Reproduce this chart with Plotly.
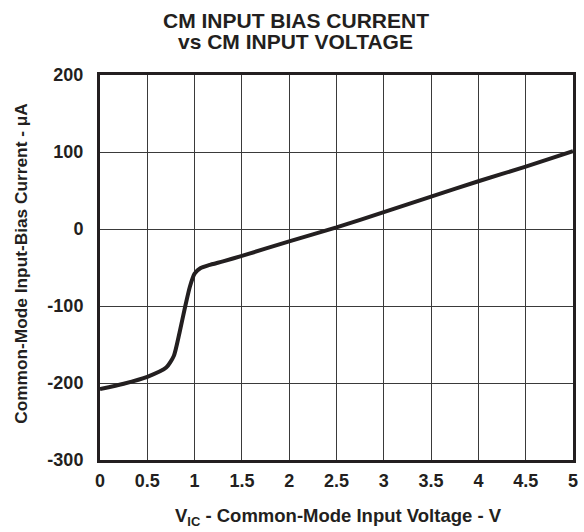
import plotly.graph_objects as go

# Common-mode input voltage (V) and input bias current (uA)
vic = [0, 0.25, 0.5, 0.7, 0.78, 0.84, 0.9, 0.95, 1.0, 1.06, 1.15, 1.3, 1.5,
       2.0, 2.5, 3.0, 3.5, 4.0, 4.5, 5.0]
ib = [-208, -201, -192, -180, -165, -135, -101, -75, -58, -51, -47, -42, -35,
      -16, 2, 22, 42, 62, 81, 101]

x_ticks = [0, 0.5, 1, 1.5, 2, 2.5, 3, 3.5, 4, 4.5, 5]
x_labels = ["0", "0.5", "1", "1.5", "2", "2.5", "3", "3.5", "4", "4.5", "5"]
y_ticks = [-300, -200, -100, 0, 100, 200]
y_labels = ["-300", "-200", "-100", "0", "100", "200"]

title_lines = ["CM INPUT BIAS CURRENT", "vs CM INPUT VOLTAGE"]
x_title = "V<sub>IC</sub> - Common-Mode Input Voltage - V"
y_title = "Common-Mode Input-Bias Current - \u03bcA"

FONT = "Liberation Sans, Arial, sans-serif"
INK = "#231f20"

W, H = 584, 532
L, R, T, B = 100, 6, 75, 72
PW, PH = W - L - R, H - T - B


def px_x(p):
    return (p - L) / PW


def px_y(p):
    return (H - B - p) / PH


fig = go.Figure()
fig.add_trace(go.Scatter(
    x=vic, y=ib, mode="lines",
    line=dict(color=INK, width=4, shape="spline", smoothing=0.6),
    showlegend=False, hoverinfo="skip",
))

axis_common = dict(
    showline=True, linecolor=INK, linewidth=3, mirror=True,
    showgrid=True, gridcolor="#3a3a3a", gridwidth=1,
    zeroline=False, ticks="",
    tickfont=dict(family=FONT, size=18, color=INK, weight="bold"),
)

fig.update_xaxes(range=[0, 5], tickvals=x_ticks, ticktext=x_labels,
                 ticklabelstandoff=2, **axis_common)
fig.update_yaxes(range=[-300, 200], tickvals=y_ticks, ticktext=y_labels,
                 ticklabelstandoff=10, **axis_common)

# Chart title, two lines
for text, yc in zip(title_lines, [20, 41.5]):
    fig.add_annotation(text=text, xref="paper", yref="paper",
                       x=px_x(298), y=px_y(yc), xanchor="center", yanchor="middle",
                       showarrow=False,
                       font=dict(family=FONT, size=21, color=INK, weight="bold"))

# Axis titles
fig.add_annotation(text=x_title, xref="paper", yref="paper",
                   x=px_x(341), y=px_y(517), xanchor="center", yanchor="middle",
                   showarrow=False,
                   font=dict(family=FONT, size=18.5, color=INK, weight="bold"))
fig.add_annotation(text=y_title, xref="paper", yref="paper",
                   x=px_x(20), y=px_y(263), xanchor="center", yanchor="middle",
                   textangle=-90, showarrow=False,
                   font=dict(family=FONT, size=17.3, color=INK, weight="bold"))

fig.update_layout(
    width=W, height=H,
    margin=dict(l=L, r=R, t=T, b=B),
    paper_bgcolor="white", plot_bgcolor="white",
)

fig.write_html("out.html")
